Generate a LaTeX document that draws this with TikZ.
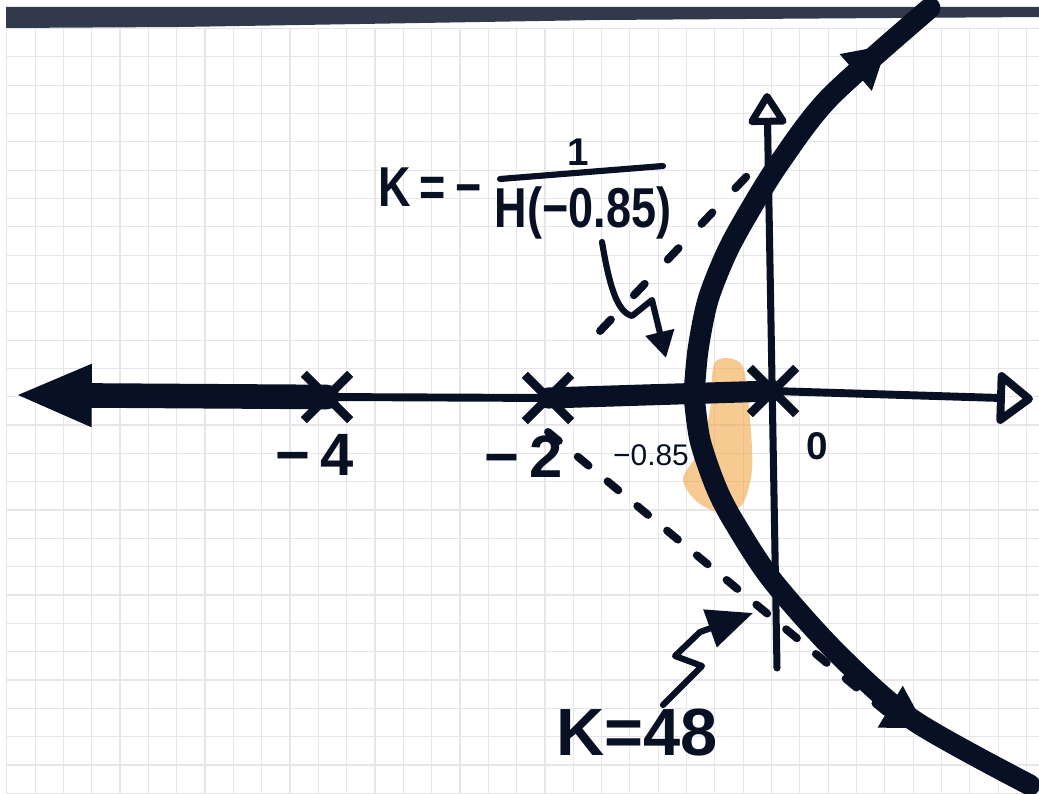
\documentclass[tikz,border=0pt]{standalone}
\usepackage{fontspec}
\setmainfont{Liberation Sans}
\newfontfamily\hand[FakeStretch=0.8]{Liberation Sans}
\newfontfamily\handw{Liberation Sans}
\usetikzlibrary{arrows.meta,decorations.markings,shapes.misc}
\definecolor{ink}{RGB}{8,16,36}
\definecolor{gridc}{RGB}{230,230,234}
\definecolor{bandc}{RGB}{48,58,74}
\definecolor{hilite}{RGB}{240,160,55}
\begin{document}
\begin{tikzpicture}[x=0.02cm,y=-0.02cm,
  gridline/.style={draw=gridc,line width=0.6pt},
  thickax/.style={draw=ink,line width=14pt,line cap=round},
  midax/.style={draw=ink,line width=12pt,line cap=round},
  thinax/.style={draw=ink,line width=4.5pt,line cap=round,line join=round},
  imax/.style={draw=ink,line width=4pt,line cap=round,line join=round},
  locus/.style={draw=ink,line width=12pt,line cap=round},
  asym/.style={draw=ink,line width=4.5pt,line cap=round},
  pole/.style={cross out,draw=ink,line width=5pt,minimum size=0.75cm,inner sep=0pt},
  squig/.style={draw=ink,line width=3.5pt,line cap=round,line join=round},
  big/.style={text=ink,inner sep=0pt,font=\hand\bfseries\fontsize{32}{34}\selectfont},
  bigw/.style={text=ink,inner sep=0pt,font=\handw\bfseries\fontsize{34}{36}\selectfont},
  small/.style={text=ink,inner sep=0pt,font=\handw\fontsize{17}{19}\selectfont},
  mid/.style={text=ink,inner sep=0pt,font=\handw\bfseries\fontsize{22}{24}\selectfont}
]
\useasboundingbox (0,0) rectangle (1039,794);
\fill[white] (0,0) rectangle (1039,794);
% graph paper grid
\foreach \i in {0,...,36} \draw[gridline] (6.7+28.33*\i,28) -- (6.7+28.33*\i,794);
\foreach \j in {0,...,27} \draw[gridline] (6,28.4+28.33*\j) -- (1039,28.4+28.33*\j);
% scan shadow at the top
\fill[bandc] (6,7) -- (1039,7) -- (1039,17) -- (600,20) -- (180,27) -- (6,28) -- cycle;
% highlight
\fill[hilite,opacity=0.55] plot[smooth cycle] coordinates {(715,362) (742,365) (750,420) (752,470) (742,505) (718,512) (695,500) (683,478) (700,450) (710,410)};
% asymptotes
\coordinate (ua) at (600,331);
\coordinate (ub) at (765,157);
\coordinate (la) at (548,432);
\coordinate (lb) at (886,712);
\draw[asym,dash pattern=on 9pt off 19pt] (ua) -- (ub);
\draw[asym,dash pattern=on 8pt off 14pt] (la) -- (lb);
% poles
\node[pole] (p4) at (327,397) {};
\node[pole] (p2) at (548,398) {};
\node[pole] (p0) at (773,391) {};
\coordinate (lefttip) at (18,395);
\coordinate (righttip) at (1033,399);
\coordinate (imbot) at (777,668);
\coordinate (imtop) at (767,93);
% real axis
\draw[thickax,-{Triangle[length=42pt,width=36pt,line width=1pt]}] (p4.center) -- (lefttip);
\draw[thinax] (p4.center) -- (p2.center);
\draw[midax] (p2.center) -- (p0.center);
\draw[thinax,-{Triangle[open,length=22pt,width=33pt,round]}] (p0.center) -- (righttip);
% imaginary axis
\draw[imax,-{Triangle[open,length=20pt,width=24pt,round]}] (imbot) -- (imtop);
% root locus branches
\draw[locus,postaction={decorate},decoration={markings,mark=at position 0.78 with {\arrow{Triangle[length=24pt,width=26pt]}}}]
  plot[smooth] coordinates {(694,395) (700,440) (716,487) (734,522) (772,580) (837,653) (913,720) (1030,785)};
\draw[locus,postaction={decorate},decoration={markings,mark=at position 0.88 with {\arrow{Triangle[length=24pt,width=26pt]}}}]
  plot[smooth] coordinates {(694,395) (698,350) (708,300) (727,252) (750,210) (780,162) (830,97) (930,8)};
% labels
\node[big] (kl) at (430,187) {K\,=\,−};
\node[mid] (num) at (578,152) {1};
\node[big] (den) at (583,213) {H(−0.85)};
\draw[ink,line width=3.5pt,line cap=round] (500,179) -- (663,166);
\node[bigw] (l4) at (315,455) {−\,4};
\node[bigw] (l2) at (524,457) {−\,2};
\node[small] (l85) at (651,455) {−0.85};
\node[mid] (l0) at (817,446) {0};
\node[bigw,font=\handw\bfseries\fontsize{38}{40}\selectfont] (k48) at (637,733) {K=48};
% pointer arrows
\coordinate (ba) at (666,358);
\coordinate (jw) at (753,613);
\draw[squig,-{Triangle[length=15pt,width=16pt]}] (602,242) .. controls (610,290) and (618,312) .. (632,316) -- (652,300) -- (ba);
\draw[squig,-{Triangle[length=26pt,width=22pt]}] (k48.north) ++(26,-4) -- (702,666) -- (675,656) -- (700,632) -- (jw);
\end{tikzpicture}
\end{document}
